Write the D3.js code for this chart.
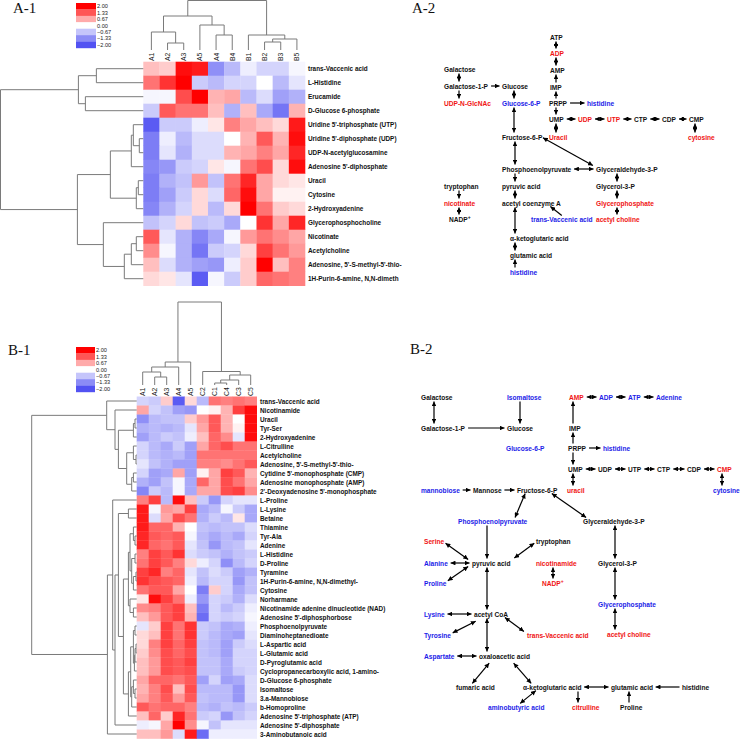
<!DOCTYPE html>
<html><head><meta charset="utf-8">
<script src="https://cdn.jsdelivr.net/npm/d3@7"></script>
<style>
body{margin:0;background:#fff}
svg text{font-family:"Liberation Sans",Arial,sans-serif}
</style></head>
<body><svg id="c" width="740" height="740"></svg>
<script>
// ---------------- DATA ----------------
const legendTicks = [2.00, 1.33, 0.67, 0.00, -0.67, -1.33, -2.00];

const aCols = ["A1","A2","A3","A5","A4","B4","B1","B2","B3","B5"];
const aRows = ["trans-Vaccenic acid","L-Histidine","Erucamide","D-Glucose 6-phosphate",
  "Uridine 5'-triphosphate (UTP)","Uridine 5'-diphosphate (UDP)","UDP-N-acetylglucosamine",
  "Adenosine 5'-diphosphate","Uracil","Cytosine","2-Hydroxyadenine","Glycerophosphocholine",
  "Nicotinate","Acetylcholine","Adenosine, 5'-S-methyl-5'-thio-","1H-Purin-6-amine, N,N-dimeth"];
const aValues = [
  [0.5,0.4,1.9,1.8,-1.3,-0.8,-0.2,-0.5,-0.5,-0.1],
  [1.1,1.6,2.0,-0.6,-0.8,-0.5,-0.5,0.0,-0.8,-0.3],
  [-0.1,-0.1,1.4,2.0,0.6,0.7,-0.8,-0.4,-1.1,-0.9],
  [-0.6,1.3,1.1,1.1,0.5,-0.9,0.5,-1.0,-1.6,0.6],
  [-1.9,-0.6,-0.6,-0.2,0.2,1.0,0.7,0.5,0.3,1.8],
  [-1.5,-0.2,-0.8,-0.4,-0.4,0.0,0.6,1.3,0.6,1.9],
  [-1.5,-0.3,-0.9,-0.4,-0.4,0.6,0.7,1.0,0.7,1.7],
  [-1.4,-1.2,-0.6,-0.5,0.2,-0.1,1.1,1.4,0.3,1.9],
  [-1.5,-0.9,-0.7,0.8,-0.7,1.1,1.7,0.7,0.3,0.2],
  [-1.5,-1.1,-0.6,0.3,-0.4,1.2,1.9,0.7,0.1,0.1],
  [-1.4,-0.9,-0.5,0.3,-0.8,0.3,2.0,1.1,0.4,0.3],
  [-0.7,-0.5,0.3,-0.7,-0.6,-1.0,0.0,1.6,0.7,1.7],
  [1.3,-0.3,-0.9,-1.4,-1.0,-0.1,0.8,1.1,0.9,0.7],
  [0.9,-0.1,-0.9,-1.6,-0.6,-0.5,0.3,1.5,1.1,0.8],
  [0.5,-0.4,-0.9,-1.1,-1.2,-0.2,0.4,2.0,0.5,1.0],
  [0.3,0.2,-0.3,-1.9,-0.1,-0.6,0.4,1.2,1.1,1.0]
];
// dendrograms: [mergeHeight, left, right], leaves = index
const aColTree = [49.5, [34, [18, 0, [7, 1, 2]], [25, 3, [15, 4, 5]]], [15, 6, [11, [8, 7, 8], 9]]];
const aRowTree = [143,
  [65, [47, 0, 1], [58, 2, 3]],
  [66, [33, [12, [10, 4, [4, 5, 6]], 7], [7, [5, 8, 9], 10]],
       [40, 11, [19, [12, [7, 12, 13], 14], 15]]]];

const bCols = ["A1","A2","A3","A4","A5","C2","C1","C4","C3","C5"];
const bRows = ["trans-Vaccenic acid","Nicotinamide","Uracil","Tyr-Ser","2-Hydroxyadenine","L-Citrulline",
  "Acetylcholine","Adenosine, 5'-S-methyl-5'-thio-","Cytidine 5'-monophosphate (CMP)","Adenosine monophosphate (AMP)",
  "2'-Deoxyadenosine 5'-monophosphate","L-Proline","L-Lysine","Betaine","Thiamine","Tyr-Ala","Adenine","L-Histidine",
  "D-Proline","Tyramine","1H-Purin-6-amine, N,N-dimethyl-","Cytosine","Norharmane","Nicotinamide adenine dinucleotide (NAD)",
  "Adenosine 5'-diphosphorbose","Phosphoenolpyruvate","Diaminoheptanedioate","L-Aspartic acid","L-Glutamic acid",
  "D-Pyroglutamic acid","Cyclopropanecarboxylic acid, 1-amino-","D-Glucose 6-phosphate","Isomaltose","3.a-Mannobiose",
  "b-Homoproline","Adenosine 5'-triphosphate (ATP)","Adenosine 5'-diphosphate","3-Aminobutanoic acid"];
const bValues = [
  [-0.5,-0.6,0.4,-1.9,0.3,-0.8,1.1,1.0,1.1,1.0],
  [0.7,-0.5,-0.7,-1.1,-1.2,0.0,0.1,0.6,1.5,1.9],
  [-1.3,-0.8,-0.7,-0.7,0.4,0.8,1.3,0.6,0.0,1.9],
  [-0.9,-0.8,-0.9,-0.8,-0.3,0.7,1.3,0.6,0.1,1.9],
  [-1.1,-0.8,-0.6,-0.7,-0.2,0.5,1.2,0.9,-0.3,1.9],
  [-0.5,-0.8,-1.0,-0.6,-1.1,0.7,1.2,1.4,1.1,1.1],
  [-0.5,-0.8,-0.9,-0.8,-1.1,1.1,1.1,1.1,1.1,1.1],
  [-0.3,-0.7,-0.9,-1.1,-1.1,1.0,1.0,0.9,1.1,1.3],
  [-0.5,-1.1,-1.0,0.7,-1.1,0.1,0.7,1.5,1.3,0.6],
  [-0.9,-1.1,-0.7,-0.1,-1.0,1.2,0.7,1.4,1.1,0.7],
  [-1.4,-0.6,-0.8,-0.1,-1.0,0.7,0.7,1.4,1.5,0.9],
  [1.0,1.5,-0.8,1.9,0.5,-0.6,-1.2,-0.5,-0.3,-0.3],
  [1.8,-0.1,0.8,0.7,1.5,-1.0,-0.8,-0.1,-0.6,-1.0],
  [1.8,-0.4,0.7,1.4,1.1,-0.9,-0.6,-0.8,0.2,-1.0],
  [1.8,1.2,1.2,0.6,0.0,-0.7,-0.8,-0.7,-0.7,-0.4],
  [1.7,1.3,1.2,1.3,-0.1,-0.8,-1.0,-0.8,-1.0,-0.5],
  [1.7,1.2,1.1,1.3,-0.3,-0.7,-1.2,-0.8,-0.7,-0.3],
  [1.0,1.5,1.3,1.6,-0.4,-0.6,-0.7,-0.9,-0.7,-0.6],
  [1.1,1.5,1.3,1.0,0.3,-0.2,-0.5,-1.3,-0.8,-0.5],
  [1.5,1.7,1.0,1.2,-0.3,-0.7,-0.4,-0.6,-1.1,-0.9],
  [1.6,1.4,1.3,1.2,-0.2,-0.8,-0.5,-0.5,-1.2,-0.7],
  [1.1,1.3,1.3,0.7,0.0,-1.5,0.4,-0.5,-1.0,-0.7],
  [0.2,1.9,1.5,1.1,-0.2,-1.2,-0.5,-0.6,-0.9,-0.4],
  [0.9,1.0,1.3,1.5,0.5,-1.5,-0.5,-0.8,-0.6,-0.2],
  [0.5,0.8,1.3,1.5,0.6,-1.7,-0.5,-0.6,-0.5,-0.1],
  [-0.3,0.4,1.5,1.1,1.6,-0.6,-0.7,-1.0,-0.9,-0.2],
  [0.3,0.5,1.5,1.1,1.6,-0.6,-0.8,-1.0,-1.1,-0.3],
  [0.3,1.0,1.5,1.2,1.5,-0.7,-0.8,-1.1,-0.6,-0.4],
  [0.4,0.9,1.4,1.2,1.4,-0.7,-0.8,-1.1,-0.5,-0.5],
  [0.5,0.8,1.4,1.3,1.5,-0.7,-0.7,-1.0,-0.5,-0.5],
  [0.5,0.8,1.4,1.3,1.4,-0.7,-0.7,-1.0,-0.6,-0.5],
  [0.7,1.2,1.2,1.1,1.3,-1.1,-0.5,-1.1,-1.0,-0.4],
  [0.6,1.0,1.4,0.5,1.4,-0.8,-0.8,-0.8,-1.2,-0.4],
  [0.7,1.0,1.3,0.8,1.3,-0.7,-0.8,-0.8,-1.2,-0.4],
  [1.3,1.1,1.2,1.2,1.0,-0.8,-0.9,-0.7,-0.8,-0.6],
  [0.5,1.2,0.4,1.7,1.1,-0.6,-0.5,-1.2,-0.7,-0.5],
  [-0.2,-0.1,0.7,2.0,0.9,-0.1,-0.7,-0.3,-0.3,-0.3],
  [0.5,0.5,0.8,-0.4,1.8,-1.7,-0.2,-0.2,-0.2,-0.2]
];
const bColTree = [83, [23, [18, [13, 0, [8, 1, 2]], 3], 4], [13.5, 5, [10, [5, [2, 6, 7], 8], 9]]];
const bRow14_24 = [8.3, [6.7, [3.3, 14, [1.7, 15, 16]], [5, [1.7, 17, 18], [3.3, [0.7, 19, 20], 21]]], [6.7, 22, [3.3, 23, 24]]];
const bRow25_35 = [8.3, [6, [3.3, [1.7, 25, 26], [2.3, [1.7, [0.7, 27, 28], 29], 30]], [5, [3.3, 31, [1.7, 32, 33]], 34]], 35];
const bRowTree = [105,
  [30, 0, [21.7, 1, [18.3, [3.3, [1.7, 2, 3], 4], [10, [3.3, 5, [0.7, 6, 7]], [5, [3.3, 8, 9], 10]]]]],
  [29.3, [24, 11, [21.7, [18.3, [8.3, 12, 13], [13.3, bRow14_24, bRow25_35]], 36]], 37]];

// pathway nodes: id, label, status (1 = red, -1 = blue, 0 = black)
const a2Nodes = [
  ["atp","ATP",0],["adp","ADP",1],["amp","AMP",0],["imp","IMP",0],["prpp","PRPP",0],["his","histidine",-1],
  ["ump","UMP",0],["udp","UDP",1],["utp","UTP",1],["ctp","CTP",0],["cdp","CDP",0],["cmp","CMP",0],
  ["ura","Uracil",1],["cyt","cytosine",1],["gal","Galactose",0],["gal1p","Galactose-1-P",0],["glc","Glucose",0],
  ["udpn","UDP-N-GlcNAc",1],["g6p","Glucose-6-P",-1],["f6p","Fructose-6-P",0],["pep","Phosphoenolpyruvate",0],
  ["gap","Glyceraldehyde-3-P",0],["trp","tryptophan",0],["pyr","pyruvic acid",0],["g3p","Glycerol-3-P",0],
  ["nic","nicotinate",1],["acoa","acetyl coenzyme A",0],["gp","Glycerophosphate",1],["nadp","NADP+",0],
  ["tva","trans-Vaccenic acid",-1],["ach","acetyl choline",1],["akg","α-ketoglutaric acid",0],
  ["glu","glutamic acid",0],["his2","histidine",-1]];
// edges: from, to, heads (1 = end, 2 = both), optional ports [fx,fy] on bounding boxes
const a2Edges = [
  ["atp","adp",2],["adp","amp",2],["imp","amp",1],["prpp","imp",1],["prpp","ump",1],["ump","ura",2],
  ["prpp","his",1],["ump","udp",2],["udp","utp",2],["utp","ctp",2],["ctp","cdp",2],["cdp","cmp",2],["cmp","cyt",2],
  ["gal","gal1p",2],["gal1p","udpn",1],["gal1p","glc",1],["glc","g6p",2],["g6p","f6p",2],["f6p","pep",2],
  ["f6p","gap",2,[1,0.6],[-0.05,0]],["pep","gap",2],["pep","pyr",1],["pyr","acoa",2],["acoa","akg",2],
  ["akg","glu",2],["his2","glu",1],["tva","acoa",1,[0.5,0],[0.82,1]],["trp","nic",1],["nic","nadp",2],
  ["gap","g3p",2],["g3p","gp",2],["gp","ach",2]];

const b2Nodes = [
  ["gal","Galactose",0],["gal1p","Galactose-1-P",0],["iso","Isomaltose",-1],["glc","Glucose",0],["g6p","Glucose-6-P",-1],
  ["amp","AMP",1],["adp","ADP",-1],["atp","ATP",-1],["ade","Adenine",-1],["imp","IMP",0],["prpp","PRPP",0],["his","histidine",-1],
  ["ump","UMP",0],["udp","UDP",0],["utp","UTP",0],["ctp","CTP",0],["cdp","CDP",0],["cmp","CMP",1],["ura","uracil",1],["cyt","cytosine",-1],
  ["manb","mannobiose",-1],["man","Mannose",0],["f6p","Fructose-6-P",0],["pep","Phosphoenolpyruvate",-1],["gap","Glyceraldehyde-3-P",0],
  ["ser","Serine",1],["trp","tryptophan",0],["ala","Alanine",-1],["pyr","pyruvic acid",0],["nam","nicotinamide",1],["g3p","Glycerol-3-P",0],
  ["pro","Proline",-1],["nadp","NADP+",1],["gp","Glycerophosphate",-1],["lys","Lysine",-1],["acoa","acetyl CoA",0],["tyr","Tyrosine",-1],
  ["tva","trans-Vaccenic acid",1],["ach","acetyl choline",1],["asp","Aspartate",-1],["oaa","oxaloacetic acid",0],["fum","fumaric acid",0],
  ["akg","α-ketoglutaric acid",0],["glu","glutamic acid",0],["his2","histidine",0],["gaba","aminobutyric acid",-1],
  ["cit","citrulline",1],["pro2","Proline",0]];
const b2Edges = [
  ["gal","gal1p",2],["gal1p","glc",1],["iso","glc",1],["imp","amp",1],["amp","adp",2],["adp","atp",2],["atp","ade",2],
  ["prpp","imp",1],["prpp","his",1],["prpp","ump",1],["ump","udp",2],["udp","utp",2],["utp","ctp",2],["ctp","cdp",2],["cdp","cmp",2],
  ["ump","ura",2],["cmp","cyt",2],["manb","man",1],["man","f6p",1],
  ["f6p","pep",2,[0.2,1],[0.82,0]],["f6p","gap",2,[0.85,1],[0.05,0]],
  ["pep","pyr",1],["ser","pyr",2,[1.05,0.8],[-0.1,0]],["ala","pyr",2],["pro","pyr",2,[1.05,0.2],[-0.1,1]],
  ["trp","pyr",2,[-0.05,0.8],[1.1,-0.2]],["nam","nadp",2],["gap","g3p",2],["g3p","gp",2],["gp","ach",2],
  ["pyr","acoa",2],["lys","acoa",2],["tyr","acoa",2,[1.05,0.2],[0.05,1.5]],["tva","acoa",2,[-0.05,0],[0.9,1]],
  ["acoa","oaa",2],["asp","oaa",2],["oaa","fum",2,[0.2,1.5],[0.42,0]],["oaa","akg",2,[0.68,1.5],[0.14,0]],
  ["gaba","akg",2,[0.57,0],[0.22,1]],["akg","glu",2],["his2","glu",1],["akg","cit",1],["pro2","glu",1]];

// ---------------- LAYOUT ----------------
// node placement: [text x, centre y, arrow column x]
const a2Layout = {
  atp:[550,37,556], adp:[550,53,556], amp:[550,70,556], imp:[550,87,556], prpp:[549,103,556], his:[587,103],
  ump:[549,119,556], udp:[578,119], utp:[607,119], ctp:[634,119], cdp:[662,119], cmp:[689,119,695],
  ura:[549,137,556], cyt:[688,137,695], gal:[444,69,459], gal1p:[444,86,459], glc:[502,86,514],
  udpn:[444,103,459], g6p:[502,103,514], f6p:[502,137,515], pep:[502,169,515], gap:[596,169,617],
  trp:[444,186,459], pyr:[502,186,515], g3p:[596,186,617], nic:[444,203,459], acoa:[502,203,515],
  gp:[596,203,617], nadp:[449,219,459], tva:[531,219], ach:[596,219,617], akg:[510,238,515],
  glu:[510,255,515], his2:[510,272,515]};
const b2Layout = {
  gal:[421,397,434], gal1p:[421,428,434], iso:[507,397,520], glc:[507,428,520], g6p:[506,448],
  amp:[569,397,573], adp:[599,397], atp:[628,397], ade:[656,397], imp:[569,428,573], prpp:[568,448,573], his:[603,448],
  ump:[568,469,573], udp:[598,469], utp:[628,469], ctp:[657,469], cdp:[687,469], cmp:[717,469,722],
  ura:[567,490,573], cyt:[713,490,722], manb:[421,490], man:[473,490], f6p:[517,490], pep:[458,521,487],
  gap:[583,521,615], ser:[424,541], trp:[536,541], ala:[424,563], pyr:[472,563,487], nam:[536,563,553],
  g3p:[598,563,615], pro:[424,583], nadp:[542,583,553], gp:[598,604,615], lys:[424,614], acoa:[474,614,487],
  tyr:[424,635], tva:[527,635], ach:[607,634,615], asp:[424,656], oaa:[479,656,486], fum:[456,687],
  akg:[523,687,578], glu:[611,687,629], his2:[682,687], gaba:[488,707], cit:[572,707,578], pro2:[620,707,629]};

const RED = "#f01414", BLUE = "#1c1ce8", DGRAY = "#7a7a7a";
const color = d3.scaleLinear().domain([-2, 0, 2]).range(["#5252f2", "#ffffff", "#ff0000"]).clamp(true);

const svg = d3.select("#c");
svg.append("rect").attr("width",740).attr("height",740).attr("fill","#fff");
const defs = svg.append("defs");
defs.append("marker").attr("id","ah").attr("viewBox","0 0 10 10").attr("refX",10).attr("refY",5)
  .attr("markerWidth",5.2).attr("markerHeight",4.8).attr("markerUnits","userSpaceOnUse")
  .attr("orient","auto-start-reverse").append("path").attr("d","M0,0L10,5L0,10z").attr("fill","#000");

function title(txt, x, y) {
  svg.append("text").attr("x",x).attr("y",y).text(txt)
    .style("font-family","'Liberation Serif','Times New Roman',serif").attr("font-size",15).attr("fill","#111");
}

function drawTree(g, tree, leafPos, hs, vertical) {
  const paths = [];
  (function walk(n) {
    if (typeof n === "number") return {p: leafPos(n), h: 0};
    const A = walk(n[1]), B = walk(n[2]);
    const H = hs(n[0]);
    if (vertical) paths.push(`M${A.p},${hs(A.h)}V${H}H${B.p}V${hs(B.h)}`);
    else paths.push(`M${hs(A.h)},${A.p}H${H}V${B.p}H${hs(B.h)}`);
    return {p: (A.p + B.p) / 2, h: n[0]};
  })(tree);
  g.selectAll(null).data(paths).join("path").attr("d", d => d)
    .attr("fill","none").attr("stroke",DGRAY).attr("stroke-width",1);
}

function heatPanel(o) {
  const g = svg.append("g");
  const x = d3.scaleBand().domain(d3.range(o.cols.length)).range(o.xr);
  const y = d3.scaleBand().domain(d3.range(o.rows.length)).range(o.yr);
  const cells = o.values.flatMap((row, i) => row.map((v, j) => ({i, j, v})));
  g.selectAll(null).data(cells).join("rect")
    .attr("x", d => x(d.j)).attr("y", d => y(d.i))
    .attr("width", x.bandwidth() + 0.3).attr("height", y.bandwidth() + 0.3)
    .attr("fill", d => color(d.v));
  g.selectAll(null).data(o.rows).join("text")
    .attr("x", o.labelX).attr("y", (d, i) => y(i) + y.bandwidth() / 2)
    .attr("dominant-baseline","central").attr("font-size",6.4).attr("font-weight","bold")
    .attr("fill","#111").text(d => d);
  g.selectAll(null).data(o.cols).join("text")
    .attr("transform", (d, i) => `translate(${x(i) + x.bandwidth() / 2},${o.colLabelY}) rotate(-90)`)
    .attr("dominant-baseline","central").attr("font-size",6.8).attr("fill","#222").text(d => d);
  const hc = d3.scaleLinear().domain(o.colDom).range(o.colRange);
  drawTree(g, o.colTree, i => x(i) + x.bandwidth() / 2, hc, true);
  const hr = d3.scaleLinear().domain(o.rowDom).range([o.xr[0], o.rowRootX]);
  drawTree(g, o.rowTree, i => y(i) + y.bandwidth() / 2, hr, false);
  // legend
  const ly = d3.scaleBand().domain(d3.range(legendTicks.length)).range(o.legY);
  const lg = g.append("g");
  lg.selectAll(null).data(legendTicks).join("rect")
    .attr("x", o.legX[0]).attr("width", o.legX[1] - o.legX[0])
    .attr("y", (d, i) => ly(i)).attr("height", ly.bandwidth() + 0.2).attr("fill", d => color(d));
  lg.selectAll(null).data(legendTicks).join("text")
    .attr("x", o.legX[1] + 1).attr("y", (d, i) => ly(i) + ly.bandwidth() / 2)
    .attr("dominant-baseline","central").attr("font-size",5.6).attr("fill","#222")
    .text(d => d3.format(".2f")(d));
}

heatPanel({cols: aCols, rows: aRows, values: aValues, xr: [143.3, 305], yr: [61.7, 285.7], labelX: 308,
  colLabelY: 61, colTree: aColTree, colDom: [0, 49.5], colRange: [50, 0.5],
  rowTree: aRowTree, rowDom: [0, 143], rowRootX: 0.5, legX: [76, 96], legY: [3, 48]});
heatPanel({cols: bCols, rows: bRows, values: bValues, xr: [136.7, 256.7], yr: [396.5, 738.5], labelX: 260,
  colLabelY: 396, colTree: bColTree, colDom: [0, 83], colRange: [385, 302],
  rowTree: bRowTree, rowDom: [0, 105], rowRootX: 31.7, legX: [76, 95], legY: [347, 392]});

function pathway(nodes, layout, edges) {
  const g = svg.append("g");
  const map = {};
  nodes.forEach(([id, label, st]) => {
    const [px, py, ax] = layout[id];
    const t = g.append("text").attr("x", px).attr("y", py).attr("dominant-baseline","central")
      .attr("font-size",6.6).attr("font-weight","bold")
      .attr("fill", st > 0 ? RED : st < 0 ? BLUE : "#111");
    if (label.endsWith("+")) {
      t.append("tspan").text(label.slice(0, -1));
      t.append("tspan").attr("font-size",5).attr("dy",-2.5).text("+");
    } else t.text(label);
    const bb = t.node().getBBox();
    map[id] = {x: px, y: py, ax, bb: {x: bb.x, y: py - 3.6, width: bb.width, height: 7.2}};
  });
  const port = (n, p) => [n.bb.x + p[0] * n.bb.width, n.bb.y + p[1] * n.bb.height];
  edges.forEach(([f, t, heads, pf, pt]) => {
    const A = map[f], B = map[t];
    let x1, y1, x2, y2;
    if (pf) {
      [x1, y1] = port(A, pf); [x2, y2] = port(B, pt);
    } else if (Math.abs(A.y - B.y) < 3) {
      y1 = y2 = A.y;
      if (B.bb.x > A.bb.x) { x1 = A.bb.x + A.bb.width + 2.5; x2 = B.bb.x - 2.5; }
      else { x1 = A.bb.x - 2.5; x2 = B.bb.x + B.bb.width + 2.5; }
    } else {
      x1 = x2 = A.ax ?? B.ax ?? (A.bb.x + A.bb.width / 2);
      if (B.y > A.y) { y1 = A.bb.y + A.bb.height + 0.8; y2 = B.bb.y - 0.8; }
      else { y1 = A.bb.y - 0.8; y2 = B.bb.y + B.bb.height + 0.8; }
    }
    const ln = g.append("line").attr("x1", x1).attr("y1", y1).attr("x2", x2).attr("y2", y2)
      .attr("stroke","#000").attr("stroke-width",1.2).attr("marker-end","url(#ah)");
    if (heads === 2) ln.attr("marker-start","url(#ah)");
  });
}

title("A-1", 13, 13);
title("A-2", 412, 13);
title("B-1", 8, 355);
title("B-2", 410, 354);
pathway(a2Nodes, a2Layout, a2Edges);
pathway(b2Nodes, b2Layout, b2Edges);
</script></body></html>
